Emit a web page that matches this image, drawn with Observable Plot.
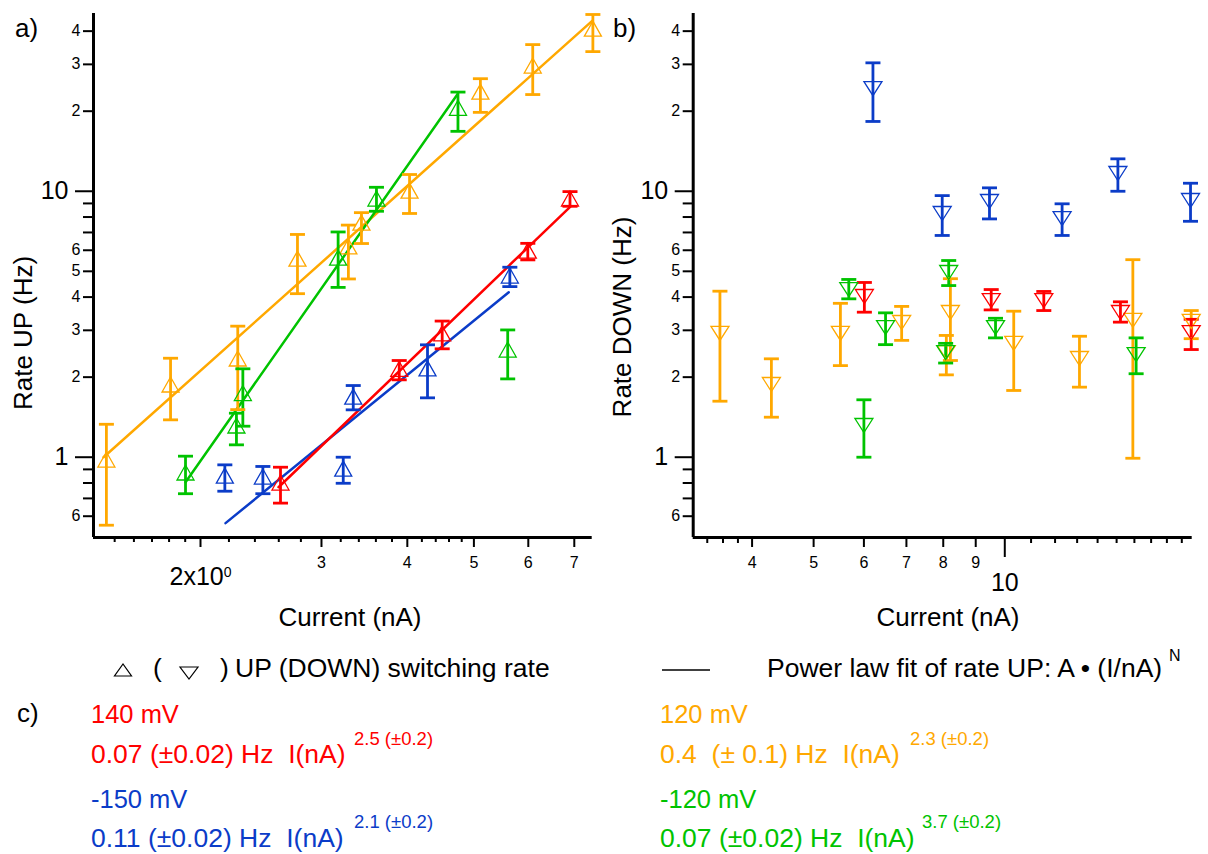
<!DOCTYPE html>
<html><head><meta charset="utf-8">
<script src="https://cdn.jsdelivr.net/npm/d3@7"></script>
<script src="https://cdn.jsdelivr.net/npm/@observablehq/plot@0.6"></script>
<style>
html,body{margin:0;padding:0;background:#fff;}
#wrap{position:relative;width:1208px;height:854px;overflow:hidden;font-family:'Liberation Sans',Arial,Helvetica,sans-serif;}
#wrap > svg{position:absolute;overflow:visible;}
</style></head><body><div id="wrap"></div>
<script>
// ---------- series ----------
const seriesKeys = ["140 mV", "-150 mV", "120 mV", "-120 mV"];
const seriesColors = ["#ff0000", "#0b3cc8", "#ffa800", "#00c300"];
const fitAmplitude = ["0.07 (±0.02) Hz \u00a0I(nA)", "0.11 (±0.02) Hz \u00a0I(nA)", "0.4 \u00a0(± 0.1) Hz \u00a0I(nA)", "0.07 (±0.02) Hz \u00a0I(nA)"];
const fitExponent = ["2.5 (±0.2)", "2.1 (±0.2)", "2.3 (±0.2)", "3.7 (±0.2)"];

// ---------- panel a: rate UP  [current nA, rate Hz, lower, upper] ----------
const up140 = [[2.615,0.803,0.672,0.917],[3.893,2.147,1.954,2.31],[4.496,2.92,2.556,3.25],[5.99,5.98,5.52,6.37],[6.90,9.39,8.78,9.97]];
const upM150 = [[2.17,0.853,0.745,0.936],[2.465,0.846,0.729,0.923],[3.227,0.906,0.798,1.0],[3.337,1.69,1.507,1.86],[4.28,2.157,1.672,2.646],[5.64,4.82,4.38,5.18]];
const up120 = [[1.459,0.98,0.555,1.33],[1.809,1.877,1.382,2.356],[2.266,2.35,1.51,3.11],[2.768,5.58,4.12,6.88],[3.283,6.2,4.68,7.46],[3.43,7.62,6.36,8.31],[4.03,10.06,8.25,11.56],[5.11,23.7,19.8,26.5],[6.09,29.7,23.1,35.6],[7.45,40.9,33.5,46.2]];
const upM120 = [[1.902,0.876,0.729,1.009],[2.256,1.316,1.113,1.464],[2.305,1.743,1.308,2.15],[3.172,5.63,4.35,7.03],[3.607,9.39,8.41,10.35],[4.74,20.6,16.8,23.6],[5.60,2.54,1.97,3.01]];

// power-law fit lines (end points)
const fit140 = [[2.598,0.771],[6.91,8.76]];
const fitM150 = [[2.175,0.565],[5.62,4.17]];
const fit120 = [[1.445,1.0],[7.44,43.8]];
const fitM120 = [[1.902,0.805],[4.73,23.1]];

// ---------- panel b: rate DOWN ----------
const down140 = [[6.01,4.02,3.51,4.54],[9.52,3.88,3.58,4.27],[11.52,3.88,3.56,4.2],[15.21,3.5,3.22,3.84],[19.66,2.94,2.54,3.3]];
const downM150 = [[6.2,24.3,18.3,30.4],[7.97,8.25,6.82,9.63],[9.46,9.15,7.87,10.3],[12.31,7.89,6.82,8.97],[15.07,11.66,10.0,13.24],[19.61,9.23,7.71,10.72]];
const down120 = [[3.56,2.92,1.624,4.21],[4.29,1.877,1.414,2.344],[5.51,2.92,2.21,3.79],[6.88,3.21,2.75,3.69],[8.21,3.5,2.31,4.69],[8.09,2.475,2.04,2.87],[10.33,2.68,1.782,3.54],[13.11,2.35,1.834,2.85],[15.91,3.27,0.991,5.53],[19.66,3.24,2.79,3.56]];
const downM120 = [[5.68,4.27,3.94,4.66],[6.0,1.316,1.0,1.644],[6.49,3.07,2.65,3.49],[8.07,2.475,2.26,2.68],[8.16,4.95,4.42,5.49],[9.67,3.07,2.81,3.33],[16.1,2.43,2.06,2.81]];

// ---------- ticks ----------
const yDomain = [0.499, 46.6];
const yLabeledTicks = [0.6,2,3,4,5,6,20,30,40];
const yLabeledText = ["6","2","3","4","5","6","2","3","4"];
const yDecadeTicks = [1,10];
const yDecadeText = ["1","10"];
const yMinorTicks = [0.7,0.8,0.9,7,8,9];
const xaDomain = [1.3973, 7.433];
const xaLabeledTicks = [3,4,5,6,7];
const xaDecadeTicks = [2];
const xaDecadeText = ["2x10^0"];
const xaMinorTicks = [1.5,1.6,1.7,1.8,1.9,2.2,2.4,2.6,2.8,3.2,3.4,3.6,3.8,4.2,4.4,4.6,4.8];
const xbDomain = [3.231, 19.73];
const xbLabeledTicks = [4,5,6,7,8,9];
const xbDecadeTicks = [10];
const xbDecadeText = ["10"];
const xbMinorTicks = [3.4,3.6,3.8,11,12,13,14,15,16,17,18,19];

// ---------- build tables ----------
const rows = (list, key) => list.map(([I, r, lo, hi]) => ({I, r, lo, hi, key}));
const pts = (list, key) => list.map(([I, r]) => ({I, r, key}));
const upData = [...rows(up120,"120 mV"), ...rows(upM120,"-120 mV"), ...rows(upM150,"-150 mV"), ...rows(up140,"140 mV")];
const fitData = [...pts(fit120,"120 mV"), ...pts(fitM120,"-120 mV"), ...pts(fitM150,"-150 mV"), ...pts(fit140,"140 mV")];
const downData = [...rows(down120,"120 mV"), ...rows(downM120,"-120 mV"), ...rows(downM150,"-150 mV"), ...rows(down140,"140 mV")];

// ---------- symbols ----------
const triUp = {draw(c){ c.moveTo(0,-7.5); c.lineTo(8.5,7.5); c.lineTo(-8.5,7.5); c.closePath(); }};
const triDown = {draw(c){ c.moveTo(-9,-7); c.lineTo(9,-7); c.lineTo(0,7); c.closePath(); }};
const capSym = {draw(c){ c.moveTo(-7.5,0); c.lineTo(7.5,0); }};

const FONT = "'Liberation Sans', Arial, Helvetica, sans-serif";
const noLabel = () => "";

function yAxes(){
  return [
    Plot.axisY({ticks: yMinorTicks, tickSize: 10, tickFormat: noLabel, strokeWidth: 2, label: null}),
    Plot.axisY({ticks: yLabeledTicks, tickSize: 10, tickFormat: noLabel, strokeWidth: 2, label: null}),
    Plot.axisY({ticks: yDecadeTicks, tickSize: 18, tickFormat: noLabel, strokeWidth: 2, label: null}),
    Plot.text(yLabeledTicks, {y: d => d, text: (d, i) => yLabeledText[i], frameAnchor: "left", textAnchor: "end", dx: -13, fontSize: 16, fill: "#000"}),
    Plot.text(yDecadeTicks, {y: d => d, text: (d, i) => yDecadeText[i], frameAnchor: "left", textAnchor: "end", dx: -25, fontSize: 25, fill: "#000"})
  ];
}
function dataMarks(data, sym){
  return [
    Plot.ruleX(data, {x: "I", y1: "lo", y2: "hi", stroke: "key", strokeWidth: 2.8}),
    Plot.dot(data, {x: "I", y: "lo", symbol: capSym, stroke: "key", fill: "none", strokeWidth: 2.8}),
    Plot.dot(data, {x: "I", y: "hi", symbol: capSym, stroke: "key", fill: "none", strokeWidth: 2.8}),
    Plot.dot(data, {x: "I", y: "r", symbol: sym, stroke: "key", fill: "none", strokeWidth: 1.3})
  ];
}

const plotA = Plot.plot({
  width: 600, height: 640,
  marginLeft: 93, marginRight: 8.3, marginTop: 13, marginBottom: 103,
  style: {fontFamily: FONT, background: "transparent", color: "#000"},
  x: {type: "log", domain: xaDomain},
  y: {type: "log", domain: yDomain},
  color: {domain: seriesKeys, range: seriesColors},
  marks: [
    Plot.axisX({ticks: xaMinorTicks, tickSize: 5, tickFormat: noLabel, strokeWidth: 2, label: null}),
    Plot.axisX({ticks: xaLabeledTicks, tickSize: 10, tickFormat: noLabel, strokeWidth: 2, label: null}),
    Plot.axisX({ticks: xaDecadeTicks, tickSize: 10, tickFormat: noLabel, strokeWidth: 2, label: null}),
    Plot.text(xaLabeledTicks, {x: d => d, text: d => String(d), frameAnchor: "bottom", lineAnchor: "top", dy: 19.5, fontSize: 16, fill: "#000"}),
    Plot.text(xaDecadeTicks, {x: d => d, text: (d, i) => xaDecadeText[i], frameAnchor: "bottom", lineAnchor: "top", dy: 30, fontSize: 25, fill: "#000"}),
    ...yAxes(),
    Plot.ruleX([xaDomain[0]], {strokeWidth: 3, stroke: "#000"}),
    Plot.ruleY([yDomain[0]], {strokeWidth: 3, stroke: "#000"}),
    Plot.line(fitData, {x: "I", y: "r", z: "key", stroke: "key", strokeWidth: 2.5}),
    ...dataMarks(upData, triUp)
  ]
});

const plotB = Plot.plot({
  width: 608, height: 640,
  marginLeft: 92.7, marginRight: 16.3, marginTop: 13, marginBottom: 103,
  style: {fontFamily: FONT, background: "transparent", color: "#000"},
  x: {type: "log", domain: xbDomain},
  y: {type: "log", domain: yDomain},
  color: {domain: seriesKeys, range: seriesColors},
  marks: [
    Plot.axisX({ticks: xbMinorTicks, tickSize: 6, tickFormat: noLabel, strokeWidth: 2, label: null}),
    Plot.axisX({ticks: xbLabeledTicks, tickSize: 10, tickFormat: noLabel, strokeWidth: 2, label: null}),
    Plot.axisX({ticks: xbDecadeTicks, tickSize: 20, tickFormat: noLabel, strokeWidth: 2, label: null}),
    Plot.text(xbLabeledTicks, {x: d => d, text: d => String(d), frameAnchor: "bottom", lineAnchor: "top", dy: 19.5, fontSize: 16, fill: "#000"}),
    Plot.text(xbDecadeTicks, {x: d => d, text: (d, i) => xbDecadeText[i], frameAnchor: "bottom", lineAnchor: "top", dy: 36, fontSize: 25, fill: "#000"}),
    ...yAxes(),
    Plot.ruleX([xbDomain[0]], {strokeWidth: 3, stroke: "#000"}),
    Plot.ruleY([yDomain[0]], {strokeWidth: 3, stroke: "#000"}),
    ...dataMarks(downData, triDown)
  ]
});

// superscript for the "2x10^0" tick label
const NS = "http://www.w3.org/2000/svg";
plotA.querySelectorAll("text").forEach(t => {
  if (t.textContent === "2x10^0") {
    t.textContent = "";
    const a = document.createElementNS(NS, "tspan"); a.textContent = "2x10";
    const b = document.createElementNS(NS, "tspan"); b.textContent = "0";
    b.setAttribute("font-size", "14"); b.setAttribute("dy", "-0.6em");
    t.appendChild(a); t.appendChild(b);
  }
});

const wrap = document.getElementById("wrap");
plotA.style.left = "0px"; plotA.style.top = "0px";
plotB.style.left = "600px"; plotB.style.top = "0px";
wrap.appendChild(plotA);
wrap.appendChild(plotB);

// ---------- text overlay: panel letters, axis titles, legend, c) ----------
const col = k => seriesColors[seriesKeys.indexOf(k)];
const overlay = `
<svg xmlns="${NS}" width="1208" height="854" style="left:0;top:0;pointer-events:none;font-family:${FONT.replace(/'/g,'&quot;')}" fill="#000">
  <text x="15" y="37" font-size="26">a)</text>
  <text x="613" y="37" font-size="26">b)</text>
  <text transform="translate(32,333) rotate(-90)" text-anchor="middle" font-size="26">Rate UP (Hz)</text>
  <text transform="translate(631,317) rotate(-90)" text-anchor="middle" font-size="26">Rate DOWN (Hz)</text>
  <text x="350" y="626" text-anchor="middle" font-size="26">Current (nA)</text>
  <text x="948" y="626" text-anchor="middle" font-size="26">Current (nA)</text>

  <polygon points="114.5,676 131.5,676 123,664" fill="none" stroke="#000" stroke-width="1.2"/>
  <text x="153" y="677" font-size="26.5">(</text>
  <polygon points="180,667 198,667 189,679" fill="none" stroke="#000" stroke-width="1.2"/>
  <text x="220" y="677" font-size="26.5">)</text>
  <text x="235" y="677" font-size="26.5">UP (DOWN) switching rate</text>
  <line x1="662" x2="710" y1="670" y2="670" stroke="#000" stroke-width="1.4"/>
  <text x="767" y="677" font-size="26.5">Power law fit of rate UP: A • (I/nA)</text>
  <text x="1169" y="661" font-size="16">N</text>

  <text x="17" y="722" font-size="26">c)</text>

  <text x="91" y="723" font-size="25.5" fill="${col('140 mV')}">140 mV</text>
  <text x="91" y="762.5" font-size="26.5" fill="${col('140 mV')}">${fitAmplitude[0]}</text>
  <text x="354" y="745" font-size="18.5" fill="${col('140 mV')}">${fitExponent[0]}</text>
  <text x="91" y="808" font-size="25.5" fill="${col('-150 mV')}">-150 mV</text>
  <text x="91" y="846.5" font-size="26.5" fill="${col('-150 mV')}">${fitAmplitude[1]}</text>
  <text x="354" y="828" font-size="18.5" fill="${col('-150 mV')}">${fitExponent[1]}</text>

  <text x="660" y="723" font-size="25.5" fill="${col('120 mV')}">120 mV</text>
  <text x="660" y="762.5" font-size="26.5" fill="${col('120 mV')}">${fitAmplitude[2]}</text>
  <text x="910" y="745" font-size="18.5" fill="${col('120 mV')}">${fitExponent[2]}</text>
  <text x="660" y="808" font-size="25.5" fill="${col('-120 mV')}">-120 mV</text>
  <text x="660" y="846.5" font-size="26.5" fill="${col('-120 mV')}">${fitAmplitude[3]}</text>
  <text x="922" y="828" font-size="18.5" fill="${col('-120 mV')}">${fitExponent[3]}</text>
</svg>`;
wrap.insertAdjacentHTML("beforeend", overlay);
</script></body></html>
